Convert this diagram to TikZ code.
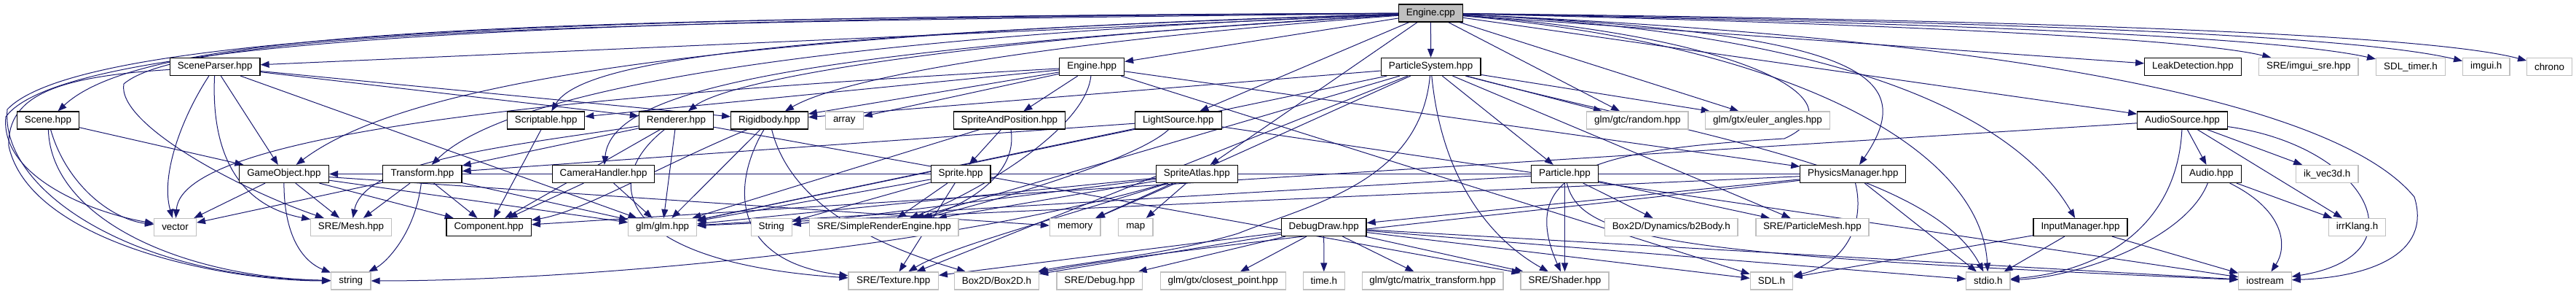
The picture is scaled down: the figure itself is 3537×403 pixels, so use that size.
\documentclass[tikz,border=0pt]{standalone}
\usepackage{fontspec}
\setmainfont{Liberation Sans}
\usetikzlibrary{arrows.meta}
\pgfdeclarelayer{background}
\pgfsetlayers{background,main}
\definecolor{edgec}{HTML}{191970}
\definecolor{greyb}{HTML}{BFBFBF}
\tikzset{
 nb/.style={draw=black, line width=1.2pt, fill=white, minimum height=24pt, inner sep=0pt, font=\fontsize{13.4pt}{15pt}\selectfont},
 xb/.style={nb, draw=greyb},
 e/.style={draw=edgec, line width=1pt, -{Triangle[length=12pt,width=9pt]}},
}
\begin{document}
\begin{tikzpicture}[x=1pt,y=-1pt]
\useasboundingbox (0,0) rectangle (3537,403);
% row 0
\node[nb, fill=greyb, minimum width=88pt] (E) at (1964.4,18) {Engine.cpp};
% row 1
\node[nb, minimum width=123.6pt] (SP) at (295.2,91.5) {SceneParser.hpp};
\node[nb, minimum width=88.7pt] (EH) at (1499.2,91.5) {Engine.hpp};
\node[nb, minimum width=136.6pt] (PS) at (1964.6,91.5) {ParticleSystem.hpp};
\node[nb, minimum width=132.6pt] (LD) at (3011,91.5) {LeakDetection.hpp};
\node[xb, minimum width=136.3pt] (IS) at (3169.8,91.5) {SRE/imgui\_sre.hpp};
\node[xb, minimum width=94.7pt] (ST) at (3310,91.5) {SDL\_timer.h};
\node[xb, minimum width=64.4pt] (IG) at (3413.8,91.5) {imgui.h};
\node[xb, minimum width=61.8pt] (CH) at (3500.5,91.5) {chrono};
% row 2
\node[nb, minimum width=84.6pt] (SC) at (66,165) {Scene.hpp};
\node[nb, minimum width=106pt] (SB) at (749.8,165) {Scriptable.hpp};
\node[nb, minimum width=102.2pt] (RE) at (928.5,165) {Renderer.hpp};
\node[nb, minimum width=105.6pt] (RB) at (1056.5,165) {Rigidbody.hpp};
\node[xb, minimum width=51.7pt] (AR) at (1159.3,165) {array};
\node[nb, minimum width=153.1pt] (SAP) at (1385.9,165) {SpriteAndPosition.hpp};
\node[nb, minimum width=118.6pt] (LS) at (1617.8,165) {LightSource.hpp};
\node[xb, minimum width=139.3pt] (RND) at (2248.4,165) {glm/gtc/random.hpp};
\node[xb, minimum width=170.6pt] (EUL) at (2427,165) {glm/gtx/euler\_angles.hpp};
\node[nb, minimum width=123.4pt] (AS) at (2996.5,165) {AudioSource.hpp};
% row 3
\node[nb, minimum width=123.2pt] (GO) at (389.9,238.5) {GameObject.hpp};
\node[nb, minimum width=108.3pt] (TR) at (579.9,238.5) {Transform.hpp};
\node[nb, minimum width=140.4pt] (CAM) at (828.6,238.5) {CameraHandler.hpp};
\node[nb, minimum width=81.6pt] (SPR) at (1319.1,238.5) {Sprite.hpp};
\node[nb, minimum width=111.8pt] (SA) at (1643.4,238.5) {SpriteAtlas.hpp};
\node[nb, minimum width=91.9pt] (PA) at (2148.5,238.5) {Particle.hpp};
\node[nb, minimum width=145.1pt] (PM) at (2544.3,238.5) {PhysicsManager.hpp};
\node[nb, minimum width=82pt] (AU) at (3036.3,238.5) {Audio.hpp};
\node[xb, minimum width=85.4pt] (IK) at (3195.2,238.5) {ik\_vec3d.h};
% row 4
\node[xb, minimum width=57.8pt] (VEC) at (240.5,311.5) {vector};
\node[xb, minimum width=110.6pt] (MESH) at (482,311.5) {SRE/Mesh.hpp};
\node[nb, minimum width=116.3pt] (COMP) at (671.2,311.5) {Component.hpp};
\node[xb, minimum width=93.8pt] (GLM) at (909.7,311.5) {glm/glm.hpp};
\node[xb, minimum width=55.9pt] (STR2) at (1059.2,311.5) {String};
\node[xb, minimum width=204.3pt] (SRE) at (1213.8,311.5) {SRE/SimpleRenderEngine.hpp};
\node[xb, minimum width=69.6pt] (MEM) at (1476.2,311.5) {memory};
\node[xb, minimum width=47.5pt] (MAP) at (1559.3,311.5) {map};
\node[nb, minimum width=116.7pt] (DD) at (1817.7,311.5) {DebugDraw.hpp};
\node[xb, minimum width=182.4pt] (B2B) at (2294.8,311.5) {Box2D/Dynamics/b2Body.h};
\node[xb, minimum width=155pt] (PMESH) at (2488.4,311.5) {SRE/ParticleMesh.hpp};
\node[nb, minimum width=129pt] (IM) at (2856.5,311.5) {InputManager.hpp};
\node[xb, minimum width=78.3pt] (IRR) at (3236.6,311.5) {irrKlang.h};
% row 5
\node[xb, minimum width=54.4pt] (STR) at (481.8,385) {string};
\node[xb, minimum width=123.3pt] (TEX) at (1226.7,385) {SRE/Texture.hpp};
\node[xb, minimum width=115.9pt] (B2D) at (1368.5,385) {Box2D/Box2D.h};
\node[xb, minimum width=117.9pt] (DBG) at (1509.9,385) {SRE/Debug.hpp};
\node[xb, minimum width=171.8pt] (CP) at (1679.2,385) {glm/gtx/closest\_point.hpp};
\node[xb, minimum width=57.4pt] (TIME) at (1817.8,385) {time.h};
\node[xb, minimum width=193.6pt] (MT) at (1967.1,385) {glm/gtc/matrix\_transform.hpp};
\node[xb, minimum width=120.9pt] (SH) at (2148.5,385) {SRE/Shader.hpp};
\node[xb, minimum width=58.6pt] (SDL) at (2432.5,385) {SDL.h};
\node[xb, minimum width=60.1pt] (STDIO) at (2729.9,385) {stdio.h};
\node[xb, minimum width=72.3pt] (IOS) at (3110,385) {iostream};

\begin{pgfonlayer}{background}
% ---- Engine.cpp
\draw[e] (E) -- (SP);
\draw[e] (E) .. controls (700,25) and (200,40) .. (SC);
\draw[e] (E) .. controls (800,25) and (90,50) .. (8,160) .. controls (0,240) and (120,290) .. (VEC);
\draw[e] (E) .. controls (800,22) and (110,45) .. (10,150) .. controls (0,260) and (180,380) .. (STR);
\draw[e] (E) .. controls (900,30) and (260,38) .. (170,115) .. controls (160,170) and (330,260) .. (MESH);
\draw[e] (E) .. controls (1000,45) and (560,110) .. (GO);
\draw[e] (E) .. controls (1000,55) and (680,140) .. (TR);
\draw[e] (E) .. controls (1100,45) and (800,80) .. (SB);
\draw[e] (E) .. controls (1300,55) and (1000,110) .. (RE);
\draw[e] (E) .. controls (1400,60) and (1150,110) .. (RB);
\draw[e] (E) .. controls (1100,70) and (840,120) .. (CAM);
\draw[e] (E) -- (EH);
\draw[e] (E) -- (PS);
\draw[e] (E) -- (LS);
\draw[e] (E) -- (SA);
\draw[e] (E) -- (RND);
\draw[e] (E) -- (EUL);
\draw[e] (E) .. controls (2550,45) and (2640,100) .. (PM);
\draw[e] (E) .. controls (2450,40) and (2750,130) .. (IM);
\draw[e] (E) -- (LD);
\draw[e] (E) .. controls (2500,30) and (3000,50) .. (IS);
\draw[e] (E) .. controls (2500,28) and (3100,45) .. (ST);
\draw[e] (E) .. controls (2500,26) and (3200,40) .. (IG);
\draw[e] (E) .. controls (2500,24) and (3300,38) .. (CH);
\draw[e] (E) -- (AS);
\draw[e] (E) .. controls (2700,50) and (3200,130) .. (3315,270) .. controls (3340,350) and (3250,380) .. (IOS);
\draw[e] (E) .. controls (2400,50) and (2560,140) .. (2450,190) .. controls (2200,205) and (2080,230) .. (SH);
\draw[e] (E) .. controls (2450,60) and (2720,200) .. (STDIO);
% ---- SceneParser
\draw[e] (SP) -- (GO);
\draw[e] (SP) .. controls (250,160) and (220,240) .. (VEC);
\draw[e] (SP) .. controls (290,200) and (320,280) .. (MESH);
\draw[e] (SP) .. controls (80,105) and (10,130) .. (12,200) .. controls (40,330) and (300,385) .. (STR);
\draw[e] (SP) -- (RE);
\draw[e] (SP) -- (RB);
\draw[e] (SP) -- (GLM);
% ---- Scene
\draw[e] (SC) -- (GO);
\draw[e] (SC) .. controls (90,250) and (150,300) .. (VEC);
\draw[e] (SC) .. controls (70,300) and (250,380) .. (STR);
% ---- GameObject
\draw[e] (GO) -- (VEC);
\draw[e] (GO) .. controls (390,330) and (420,360) .. (STR);
\draw[e] (GO) -- (MESH);
\draw[e] (GO) -- (COMP);
\draw[e] (GO) -- (GLM);
\draw[e] (GO) -- (MEM);
% ---- Transform
\draw[e] (TR) -- (VEC);
\draw[e] (TR) .. controls (570,320) and (530,360) .. (STR);
\draw[e] (TR) -- (MESH);
\draw[e] (TR) -- (COMP);
\draw[e] (TR) -- (GLM);
% ---- Scriptable, Renderer, Rigidbody, CameraHandler
\draw[e] (SB) -- (COMP);
\draw[e] (RE) -- (TR);
\draw[e] (RE) -- (GLM);
\draw[e] (RE) -- (COMP);
\draw[e] (RE) .. controls (700,200) and (500,220) .. (MESH);
\draw[e] (RE) -- (SH);
\draw[e] (RE) .. controls (820,250) and (850,360) .. (TEX);
\draw[e] (RB) .. controls (900,230) and (800,290) .. (COMP);
\draw[e] (RB) -- (GLM);
\draw[e] (RB) .. controls (1000,260) and (1010,360) .. (TEX);
\draw[e] (RB) .. controls (1090,300) and (1250,350) .. (B2D);
\draw[e] (CAM) -- (COMP);
\draw[e] (CAM) -- (GLM);
% ---- Engine.hpp
\draw[e] (EH) -- (SAP);
\draw[e] (EH) .. controls (1490,180) and (1330,270) .. (SRE);
\draw[e] (EH) -- (AR);
\draw[e] (EH) -- (SB);
\draw[e] (EH) -- (RB);
\draw[e] (EH) -- (PM);
\draw[e] (EH) -- (SDL);
\draw[e] (EH) .. controls (800,130) and (250,180) .. (VEC);
% ---- SpriteAndPosition, Sprite
\draw[e] (SAP) -- (SPR);
\draw[e] (SAP) .. controls (1400,250) and (1300,290) .. (SRE);
\draw[e] (SAP) -- (GLM);
\draw[e] (SPR) -- (SRE);
\draw[e] (SPR) -- (TEX);
\draw[e] (SPR) -- (GLM);
\draw[e] (SPR) -- (STR2);
% ---- LightSource
\draw[e] (LS) .. controls (1560,220) and (1350,280) .. (SRE);
\draw[e] (LS) -- (TR);
\draw[e] (LS) -- (GLM);
\draw[e] (LS) -- (IOS);
% ---- SpriteAtlas
\draw[e] (SA) -- (SRE);
\draw[e] (SA) -- (MEM);
\draw[e] (SA) -- (MAP);
\draw[e] (SA) -- (STR2);
\draw[e] (SA) -- (GLM);
\draw[e] (SA) .. controls (1450,300) and (1300,340) .. (TEX);
\draw[e] (SA) .. controls (1300,340) and (800,385) .. (STR);
% ---- ParticleSystem
\draw[e] (PS) -- (PA);
\draw[e] (PS) -- (RND);
\draw[e] (PS) -- (EUL);
\draw[e] (PS) .. controls (1980,250) and (2050,330) .. (SH);
\draw[e] (PS) -- (PMESH);
\draw[e] (PS) -- (TEX);
\draw[e] (PS) .. controls (1950,250) and (1800,280) .. (1700,320) .. controls (1600,350) and (1480,360) .. (B2D);
\draw[e] (PS) -- (RB);
\draw[e] (PS) -- (GLM);
\draw[e] (PS) -- (SRE);
\draw[e] (PS) -- (MEM);
\draw[e] (PS) .. controls (2300,180) and (2650,230) .. (STDIO);
% ---- Particle
\draw[e] (PA) -- (B2B);
\draw[e] (PA) -- (SH);
\draw[e] (PA) -- (PMESH);
\draw[e] (PA) -- (GLM);
\draw[e] (PA) .. controls (2170,330) and (2300,350) .. (IOS);
% ---- PhysicsManager
\draw[e] (PM) -- (DD);
\draw[e] (PM) .. controls (2560,300) and (2540,360) .. (SDL);
\draw[e] (PM) -- (STDIO);
\draw[e] (PM) .. controls (2200,280) and (1600,340) .. (B2D);
\draw[e] (PM) -- (GO);
\draw[e] (PM) -- (GLM);
% ---- DebugDraw
\draw[e] (DD) -- (TIME);
\draw[e] (DD) -- (MT);
\draw[e] (DD) -- (SH);
\draw[e] (DD) -- (DBG);
\draw[e] (DD) -- (CP);
\draw[e] (DD) -- (B2D);
\draw[e] (DD) -- (TEX);
\draw[e] (DD) -- (SDL);
\draw[e] (DD) -- (STDIO);
\draw[e] (DD) -- (IOS);
% ---- InputManager
\draw[e] (IM) -- (SDL);
\draw[e] (IM) -- (STDIO);
\draw[e] (IM) -- (IOS);
% ---- AudioSource, Audio
\draw[e] (AS) -- (AU);
\draw[e] (AS) -- (IK);
\draw[e] (AS) -- (IRR);
\draw[e] (AS) .. controls (3250,200) and (3330,350) .. (IOS);
\draw[e] (AS) .. controls (2990,300) and (2900,370) .. (STDIO);
\draw[e] (AS) -- (COMP);
\draw[e] (AU) -- (IRR);
\draw[e] (AU) .. controls (3140,290) and (3140,340) .. (IOS);
\draw[e] (AU) .. controls (3000,330) and (2850,380) .. (STDIO);
\end{pgfonlayer}
\end{tikzpicture}
\end{document}
